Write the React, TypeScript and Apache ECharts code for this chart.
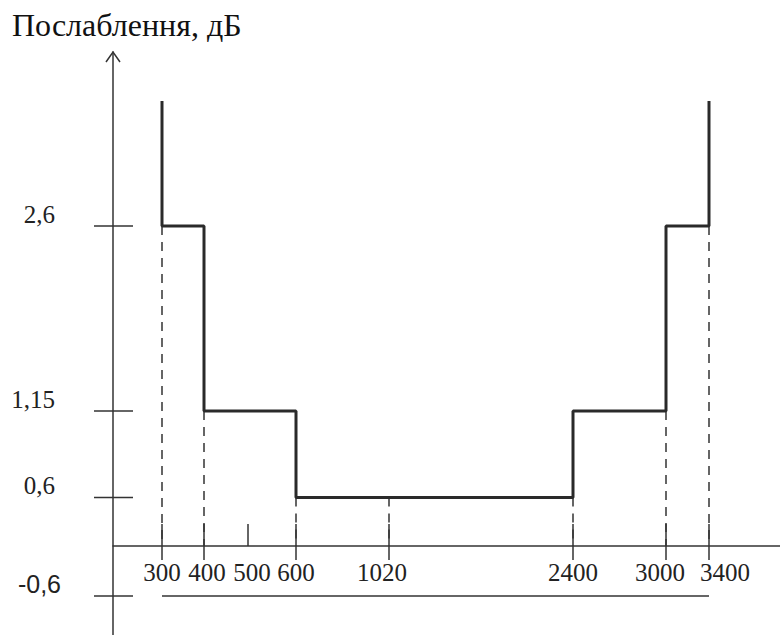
import React, { useEffect, useRef } from "react";
import * as echarts from "echarts";

// Frequency marks (Hz) and their schematic (non-linear) position along the drawn axis
const freqLabels = ["300", "400", "500", "600", "1020", "2400", "3000", "3400"];
const freqPos = [4.9, 9.1, 13.5, 18.3, 27.6, 46.0, 55.3, 59.6];

// Attenuation levels (dB) and their schematic (non-linear) position on the drawn vertical axis
const levelLabels = ["-0,6", "0,6", "1,15", "2,6"];
const levelPos = [-5.0, 4.85, 13.5, 32.0];
const maskTopPos = 44.5;

// Mask: band edges and attenuation level in each band
const bandEdges = ["300", "400", "600", "2400", "3000", "3400"];
const bandLevels = ["2,6", "1,15", "0,6", "1,15", "2,6"];

// Dashed guide lines: frequency and the level they drop from
const guideFreqs = ["300", "400", "600", "1020", "2400", "3000", "3400"];
const guideFrom = ["2,6", "1,15", "0,6", "0,6", "0,6", "1,15", "2,6"];

// Lower limit line
const floorLevel = "-0,6";
const floorFrom = "300";
const floorTo = "3400";

const fx = (f: string) => freqPos[freqLabels.indexOf(f)];
const ly = (l: string) => levelPos[levelLabels.indexOf(l)];

export default function App() {
  const ref = useRef<HTMLDivElement>(null);
  useEffect(() => {
    if (!ref.current) return;
    const chart = echarts.init(ref.current, null, { renderer: "svg" });

    const stepData: number[][] = [];
    stepData.push([fx(bandEdges[0]), maskTopPos]);
    bandLevels.forEach((lv, i) => {
      stepData.push([fx(bandEdges[i]), ly(lv)]);
      stepData.push([fx(bandEdges[i + 1]), ly(lv)]);
    });
    stepData.push([fx(bandEdges[bandEdges.length - 1]), maskTopPos]);

    const guideData = freqLabels.map((f, i) => {
      const gi = guideFreqs.indexOf(f);
      return gi >= 0 ? [freqPos[i], ly(guideFrom[gi]), 1] : [freqPos[i], 0, 0];
    });

    const ink = "#333333";
    const labelNudge: Record<string, number> = { "1020": -7, "3000": -6, "3400": 16, "400": 3, "500": 4 };

    const option: any = {
      animation: false,
      backgroundColor: "#ffffff",
      title: {
        text: "Послаблення, дБ",
        left: 12,
        top: 9,
        padding: 0,
        textStyle: {
          fontFamily: "Liberation Serif",
          fontSize: 32,
          fontWeight: "normal",
          color: "#111111",
        },
      },
      grid: { left: 113, right: 0, top: 52, bottom: 0, containLabel: false },
      xAxis: {
        type: "value",
        min: 0,
        max: 66.7,
        axisLine: { show: true, onZero: true, lineStyle: { color: ink, width: 1.5 } },
        axisTick: { show: false },
        axisLabel: { show: false },
        splitLine: { show: false },
      },
      yAxis: {
        type: "value",
        min: -8.9,
        max: 49.4,
        axisLine: { show: true, onZero: true, lineStyle: { color: ink, width: 1.5 } },
        axisTick: { show: false },
        axisLabel: { show: false },
        splitLine: { show: false },
      },
      series: [
        {
          type: "line",
          data: stepData,
          showSymbol: false,
          lineStyle: { color: "#2a2a2a", width: 3 },
          z: 5,
        },
        {
          type: "line",
          data: [
            [fx(floorFrom), ly(floorLevel)],
            [fx(floorTo), ly(floorLevel)],
          ],
          showSymbol: false,
          lineStyle: { color: ink, width: 1.5 },
        },
        {
          type: "custom",
          clip: false,
          data: guideData,
          renderItem: (params: any, api: any) => {
            const x = api.value(0);
            const from = api.value(1);
            const hasDash = api.value(2);
            const p0 = api.coord([x, 0]);
            const label = freqLabels[params.dataIndex];
            const children: any[] = [];
            if (hasDash) {
              const pf = api.coord([x, from]);
              children.push({
                type: "line",
                shape: { x1: p0[0], y1: pf[1], x2: p0[0], y2: p0[1] },
                style: { stroke: ink, lineWidth: 1.5, lineDash: [9, 7] },
              });
            }
            children.push({
              type: "line",
              shape: { x1: p0[0], y1: p0[1] - 22, x2: p0[0], y2: p0[1] + (hasDash ? 14 : 0) },
              style: { stroke: ink, lineWidth: 1.5 },
            });
            children.push({
              type: "text",
              x: p0[0] + (labelNudge[label] || 0),
              y: p0[1] + 26,
              style: {
                text: label,
                font: "25px 'Liberation Serif'",
                fill: "#222222",
                align: "center",
                verticalAlign: "middle",
              },
            });
            return { type: "group", children };
          },
        },
        {
          type: "custom",
          clip: false,
          data: levelPos.map((p) => [0, p]),
          renderItem: (params: any, api: any) => {
            const p = api.coord([0, api.value(1)]);
            const label = levelLabels[params.dataIndex];
            const sans = label.startsWith("-");
            return {
              type: "group",
              children: [
                {
                  type: "line",
                  shape: { x1: p[0] - 19, y1: p[1], x2: p[0] + 20, y2: p[1] },
                  style: { stroke: ink, lineWidth: 1.5 },
                },
                {
                  type: "text",
                  x: p[0] - (sans ? 52 : 58),
                  y: p[1] - 12,
                  style: {
                    text: label,
                    font: sans ? "25px 'Liberation Sans'" : "25px 'Liberation Serif'",
                    fill: "#222222",
                    align: "right",
                    verticalAlign: "middle",
                  },
                },
              ],
            };
          },
        },
        {
          type: "custom",
          clip: false,
          data: [[0, 49.4]],
          renderItem: (params: any, api: any) => {
            const p = api.coord([api.value(0), api.value(1)]);
            return {
              type: "polyline",
              shape: {
                points: [
                  [p[0] - 7, p[1] + 10],
                  [p[0], p[1]],
                  [p[0] + 7, p[1] + 10],
                ],
              },
              style: { stroke: ink, lineWidth: 1.5, fill: "none" },
            };
          },
        },
      ],
    };
    chart.setOption(option);
    return () => chart.dispose();
  }, []);

  return (
    <div
      ref={ref}
      style={{ position: "absolute", left: 0, top: 0, width: 780, height: 635, background: "#fff" }}
    />
  );
}
